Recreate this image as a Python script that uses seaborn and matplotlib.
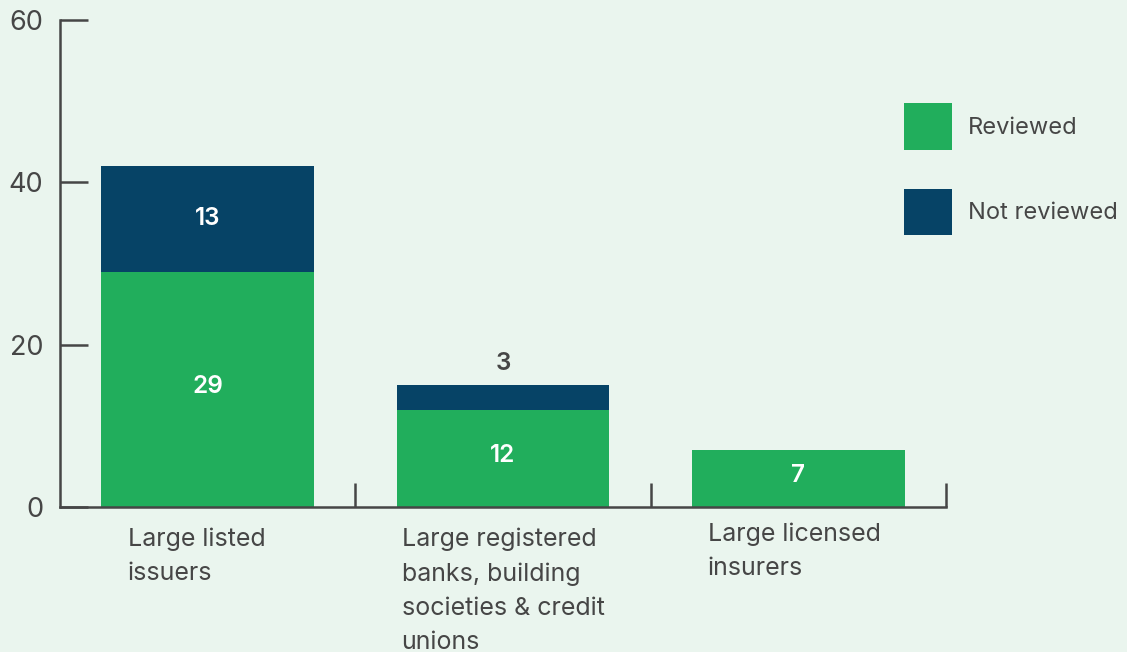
import matplotlib
matplotlib.use("Agg")
import matplotlib.pyplot as plt
from matplotlib.patches import Patch
import seaborn as sns
import pandas as pd

# Data
categories = [
    "Large listed\nissuers",
    "Large registered\nbanks, building\nsocieties & credit\nunions",
    "Large licensed\ninsurers",
]
reviewed = [29, 12, 7]
not_reviewed = [13, 3, 0]
series_names = ["Reviewed", "Not reviewed"]
y_ticks = [0, 20, 40, 60]

GREEN = "#21AE5C"
NAVY = "#064366"
BG = "#EAF5EE"
INK = "#464646"

sns.set_theme(style="white")
plt.rcParams["font.family"] = ["Inter", "DejaVu Sans"]

df = pd.DataFrame({
    "cat": [str(i) for i in range(len(categories))],
    "reviewed": reviewed,
    "not_reviewed": not_reviewed,
})
df["total"] = df["reviewed"] + df["not_reviewed"]

fig = plt.figure(figsize=(11.27, 6.52), dpi=100, facecolor=BG)
ax = fig.add_axes([60 / 1127, 1 - 507 / 652, (946 - 60) / 1127, (507 - 20) / 652])
ax.set_facecolor(BG)

# stacked bars: full height in navy, reviewed part in green on top
sns.barplot(data=df, x="cat", y="total", color=NAVY, width=0.72,
            saturation=1, ax=ax, linewidth=0)
sns.barplot(data=df, x="cat", y="reviewed", color=GREEN, width=0.72,
            saturation=1, ax=ax, linewidth=0)

ax.set_xlim(-0.5, 2.5)
ax.set_ylim(0, 60)
ax.set_xlabel("")
ax.set_ylabel("")

for s in ["top", "right"]:
    ax.spines[s].set_visible(False)
for s in ["left", "bottom"]:
    ax.spines[s].set_color(INK)
    ax.spines[s].set_linewidth(1.8)

ax.set_yticks(y_ticks)
ax.tick_params(axis="y", direction="in", length=20, width=1.8, color=INK,
               labelsize=19.5, labelcolor=INK, pad=12, left=True)
for t in ax.get_yticklabels():
    t.set_va("center_baseline")
ax.set_xticks([0.5, 1.5, 2.5])
ax.set_xticklabels([])
ax.tick_params(axis="x", direction="in", length=17, width=1.8, color=INK,
               bottom=True)

# category labels under the axis
label_dx = [-8, 0, -3]
label_dy = [-15, -15, -11]
for i, lab in enumerate(categories):
    ax.annotate(lab, xy=(i, 0), xycoords=("data", "axes fraction"),
                xytext=(label_dx[i], label_dy[i]), textcoords="offset points",
                ha="center", va="top", multialignment="left",
                fontsize=18, color=INK, linespacing=1.6)

# value labels
for i in range(len(categories)):
    r = reviewed[i]
    n = not_reviewed[i]
    ax.text(i, r / 2 + 0.4, f"{r}", ha="center", va="center", color="white",
            fontsize=17.5, fontweight="semibold")
    if n > 0:
        if n >= 6:
            ax.text(i, r + n / 2, f"{n}", ha="center", va="center",
                    color="white", fontsize=17.5, fontweight="semibold")
        else:
            ax.text(i, r + n + 2.7, f"{n}", ha="center", va="center",
                    color=INK, fontsize=17.5, fontweight="semibold")

handles = [Patch(facecolor=GREEN, edgecolor="none"),
           Patch(facecolor=NAVY, edgecolor="none")]
fig.legend(handles, series_names, loc="upper left",
           bbox_to_anchor=(895 / 1127, 1 - 94 / 652), frameon=False,
           fontsize=17, labelcolor=INK, handlelength=2.0, handleheight=2.65,
           labelspacing=1.65, handletextpad=0.7, borderaxespad=0)

fig.savefig("out.png", dpi=100, facecolor=BG)
